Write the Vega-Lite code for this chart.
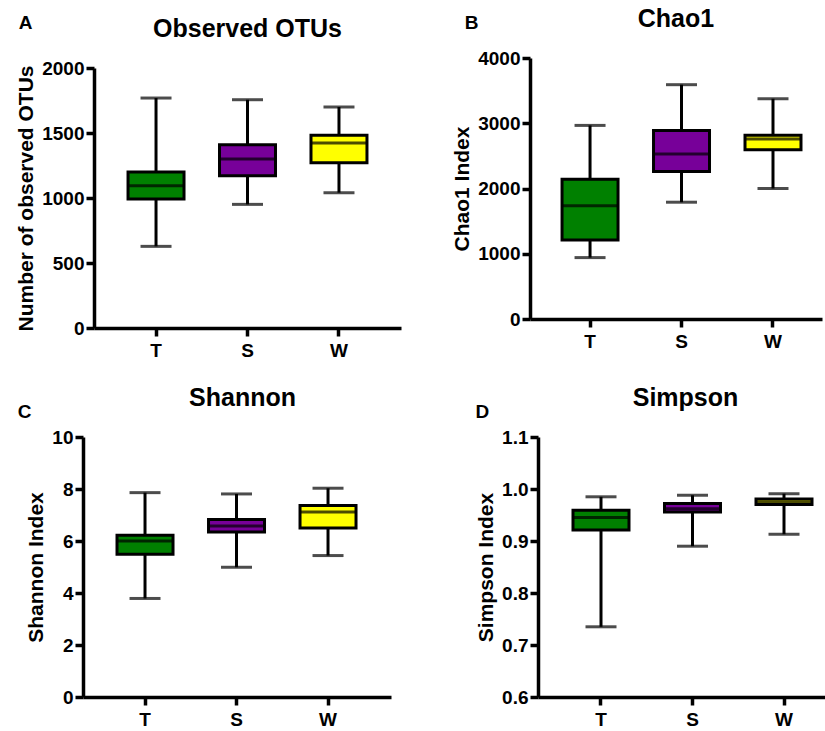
{
  "$schema": "https://vega.github.io/schema/vega-lite/v6.json",
  "padding": {"left": 15, "top": 6, "right": 0, "bottom": 0},
  "datasets": {
    "otus": [
      {"group": "T", "min": 628, "q1": 992, "median": 1095, "q3": 1200, "max": 1769},
      {"group": "S", "min": 951, "q1": 1172, "median": 1300, "q3": 1410, "max": 1756},
      {"group": "W", "min": 1041, "q1": 1272, "median": 1423, "q3": 1482, "max": 1700}
    ],
    "chao": [
      {"group": "T", "min": 941, "q1": 1212, "median": 1734, "q3": 2143, "max": 2967},
      {"group": "S", "min": 1790, "q1": 2261, "median": 2527, "q3": 2890, "max": 3591},
      {"group": "W", "min": 2000, "q1": 2593, "median": 2757, "q3": 2818, "max": 3376}
    ],
    "shannon": [
      {"group": "T", "min": 3.79, "q1": 5.49, "median": 6.0, "q3": 6.22, "max": 7.86},
      {"group": "S", "min": 4.99, "q1": 6.35, "median": 6.58, "q3": 6.83, "max": 7.81},
      {"group": "W", "min": 5.44, "q1": 6.5, "median": 7.12, "q3": 7.37, "max": 8.03}
    ],
    "simpson": [
      {"group": "T", "min": 0.735, "q1": 0.921, "median": 0.945, "q3": 0.959, "max": 0.985},
      {"group": "S", "min": 0.89, "q1": 0.956, "median": 0.962, "q3": 0.972, "max": 0.988},
      {"group": "W", "min": 0.913, "q1": 0.97, "median": 0.975, "q3": 0.981, "max": 0.991}
    ]
  },
  "spacing": 26,
  "vconcat": [
    {
      "spacing": 50,
      "hconcat": [
        {
          "title": {"text": ["", "A"], "anchor": "start", "frame": "bounds", "fontSize": 19, "offset": 0, "dx": 3, "dy": 16, "lineHeight": 8},
          "vconcat": [
            {
              "width": 307, "height": 260,
              "title": {"text": "Observed OTUs", "frame": "group", "anchor": "middle", "offset": 17},
              "data": {"name": "otus"},
              "encoding": {"x": {"field": "group", "type": "nominal", "sort": ["T", "S", "W"], "title": null, "scale": {"type": "band", "paddingInner": 0.388, "paddingOuter": 0.372, "align": 0.5}}},
              "layer": [
                {"mark": {"type": "rule", "color": "black", "strokeWidth": 3}, "encoding": {"y": {"field": "min", "type": "quantitative", "title": "Number of observed OTUs", "scale": {"domain": [0, 2000], "nice": false}, "axis": {"values": [0, 500, 1000, 1500, 2000], "format": "d"}}, "y2": {"field": "max"}}},
                {"mark": {"type": "tick", "color": "black", "size": 31, "thickness": 3}, "encoding": {"y": {"field": "min", "type": "quantitative", "title": "Number of observed OTUs", "scale": {"domain": [0, 2000], "nice": false}, "axis": {"values": [0, 500, 1000, 1500, 2000], "format": "d"}}}},
                {"mark": {"type": "tick", "color": "black", "size": 31, "thickness": 3}, "encoding": {"y": {"field": "max", "type": "quantitative", "title": "Number of observed OTUs", "scale": {"domain": [0, 2000], "nice": false}, "axis": {"values": [0, 500, 1000, 1500, 2000], "format": "d"}}}},
                {"mark": {"type": "bar", "stroke": "black", "strokeWidth": 3}, "encoding": {"y": {"field": "q1", "type": "quantitative", "title": "Number of observed OTUs", "scale": {"domain": [0, 2000], "nice": false}, "axis": {"values": [0, 500, 1000, 1500, 2000], "format": "d"}}, "y2": {"field": "q3"}, "fill": {"field": "group", "type": "nominal", "scale": {"domain": ["T", "S", "W"], "range": ["#008000", "#770099", "#ffff00"]}, "legend": null}}},
                {"mark": {"type": "tick", "color": "black", "size": 56, "thickness": 3}, "encoding": {"y": {"field": "median", "type": "quantitative", "title": "Number of observed OTUs", "scale": {"domain": [0, 2000], "nice": false}, "axis": {"values": [0, 500, 1000, 1500, 2000], "format": "d"}}}}
              ]
            }
          ]
        },
        {
          "title": {"text": "B", "anchor": "start", "frame": "bounds", "fontSize": 19, "offset": 0, "dx": 13, "dy": 26},
          "vconcat": [
            {
              "width": 292, "height": 251,
              "title": {"text": "Chao1", "frame": "group", "anchor": "middle", "offset": 17},
              "data": {"name": "chao"},
              "encoding": {"x": {"field": "group", "type": "nominal", "sort": ["T", "S", "W"], "title": null, "scale": {"type": "band", "paddingInner": 0.388, "paddingOuter": 0.29, "align": 0.604}}},
              "layer": [
                {"mark": {"type": "rule", "color": "black", "strokeWidth": 3}, "encoding": {"y": {"field": "min", "type": "quantitative", "title": "Chao1 Index", "scale": {"domain": [0, 4000], "nice": false, "range": [251, -10]}, "axis": {"values": [0, 1000, 2000, 3000, 4000], "format": "d"}}, "y2": {"field": "max"}}},
                {"mark": {"type": "tick", "color": "black", "size": 31, "thickness": 3}, "encoding": {"y": {"field": "min", "type": "quantitative", "title": "Chao1 Index", "scale": {"domain": [0, 4000], "nice": false, "range": [251, -10]}, "axis": {"values": [0, 1000, 2000, 3000, 4000], "format": "d"}}}},
                {"mark": {"type": "tick", "color": "black", "size": 31, "thickness": 3}, "encoding": {"y": {"field": "max", "type": "quantitative", "title": "Chao1 Index", "scale": {"domain": [0, 4000], "nice": false, "range": [251, -10]}, "axis": {"values": [0, 1000, 2000, 3000, 4000], "format": "d"}}}},
                {"mark": {"type": "bar", "stroke": "black", "strokeWidth": 3}, "encoding": {"y": {"field": "q1", "type": "quantitative", "title": "Chao1 Index", "scale": {"domain": [0, 4000], "nice": false, "range": [251, -10]}, "axis": {"values": [0, 1000, 2000, 3000, 4000], "format": "d"}}, "y2": {"field": "q3"}, "fill": {"field": "group", "type": "nominal", "scale": {"domain": ["T", "S", "W"], "range": ["#008000", "#770099", "#ffff00"]}, "legend": null}}},
                {"mark": {"type": "tick", "color": "black", "size": 56, "thickness": 3}, "encoding": {"y": {"field": "median", "type": "quantitative", "title": "Chao1 Index", "scale": {"domain": [0, 4000], "nice": false, "range": [251, -10]}, "axis": {"values": [0, 1000, 2000, 3000, 4000], "format": "d"}}}}
              ]
            }
          ]
        }
      ]
    },
    {
      "spacing": 73,
      "hconcat": [
        {
          "title": {"text": "C", "anchor": "start", "frame": "bounds", "fontSize": 19, "offset": 0, "dx": -8, "dy": 36},
          "vconcat": [
            {
              "width": 297, "height": 260,
              "title": {"text": "Shannon", "frame": "group", "anchor": "middle", "offset": 17},
              "data": {"name": "shannon"},
              "encoding": {"x": {"field": "group", "type": "nominal", "sort": ["T", "S", "W"], "title": null, "scale": {"type": "band", "paddingInner": 0.388, "paddingOuter": 0.377, "align": 0.493, "range": [-11, 297]}}},
              "layer": [
                {"mark": {"type": "rule", "color": "black", "strokeWidth": 3}, "encoding": {"y": {"field": "min", "type": "quantitative", "title": "Shannon Index", "scale": {"domain": [0, 10], "nice": false}, "axis": {"values": [0, 2, 4, 6, 8, 10], "offset": 11}}, "y2": {"field": "max"}}},
                {"mark": {"type": "tick", "color": "black", "size": 31, "thickness": 3}, "encoding": {"y": {"field": "min", "type": "quantitative", "title": "Shannon Index", "scale": {"domain": [0, 10], "nice": false}, "axis": {"values": [0, 2, 4, 6, 8, 10], "offset": 11}}}},
                {"mark": {"type": "tick", "color": "black", "size": 31, "thickness": 3}, "encoding": {"y": {"field": "max", "type": "quantitative", "title": "Shannon Index", "scale": {"domain": [0, 10], "nice": false}, "axis": {"values": [0, 2, 4, 6, 8, 10], "offset": 11}}}},
                {"mark": {"type": "bar", "stroke": "black", "strokeWidth": 3}, "encoding": {"y": {"field": "q1", "type": "quantitative", "title": "Shannon Index", "scale": {"domain": [0, 10], "nice": false}, "axis": {"values": [0, 2, 4, 6, 8, 10], "offset": 11}}, "y2": {"field": "q3"}, "fill": {"field": "group", "type": "nominal", "scale": {"domain": ["T", "S", "W"], "range": ["#008000", "#770099", "#ffff00"]}, "legend": null}}},
                {"mark": {"type": "tick", "color": "black", "size": 56, "thickness": 3}, "encoding": {"y": {"field": "median", "type": "quantitative", "title": "Shannon Index", "scale": {"domain": [0, 10], "nice": false}, "axis": {"values": [0, 2, 4, 6, 8, 10], "offset": 11}}}}
              ]
            }
          ]
        },
        {
          "title": {"text": "D", "anchor": "start", "frame": "bounds", "fontSize": 19, "offset": 0, "dx": 0, "dy": 36},
          "vconcat": [
            {
              "width": 295, "height": 260,
              "title": {"text": "Simpson", "frame": "group", "anchor": "middle", "offset": 17},
              "data": {"name": "simpson"},
              "encoding": {"x": {"field": "group", "type": "nominal", "sort": ["T", "S", "W"], "title": null, "scale": {"type": "band", "paddingInner": 0.388, "paddingOuter": 0.306, "align": 0.625}}},
              "layer": [
                {"mark": {"type": "rule", "color": "black", "strokeWidth": 3}, "encoding": {"y": {"field": "min", "type": "quantitative", "title": "Simpson Index", "scale": {"domain": [0.6, 1.1], "nice": false, "zero": false}, "axis": {"values": [0.6, 0.7, 0.8, 0.9, 1.0, 1.1], "format": ".1f"}}, "y2": {"field": "max"}}},
                {"mark": {"type": "tick", "color": "black", "size": 31, "thickness": 3}, "encoding": {"y": {"field": "min", "type": "quantitative", "title": "Simpson Index", "scale": {"domain": [0.6, 1.1], "nice": false, "zero": false}, "axis": {"values": [0.6, 0.7, 0.8, 0.9, 1.0, 1.1], "format": ".1f"}}}},
                {"mark": {"type": "tick", "color": "black", "size": 31, "thickness": 3}, "encoding": {"y": {"field": "max", "type": "quantitative", "title": "Simpson Index", "scale": {"domain": [0.6, 1.1], "nice": false, "zero": false}, "axis": {"values": [0.6, 0.7, 0.8, 0.9, 1.0, 1.1], "format": ".1f"}}}},
                {"mark": {"type": "bar", "stroke": "black", "strokeWidth": 3}, "encoding": {"y": {"field": "q1", "type": "quantitative", "title": "Simpson Index", "scale": {"domain": [0.6, 1.1], "nice": false, "zero": false}, "axis": {"values": [0.6, 0.7, 0.8, 0.9, 1.0, 1.1], "format": ".1f"}}, "y2": {"field": "q3"}, "fill": {"field": "group", "type": "nominal", "scale": {"domain": ["T", "S", "W"], "range": ["#008000", "#770099", "#ffff00"]}, "legend": null}}},
                {"mark": {"type": "tick", "color": "black", "size": 56, "thickness": 3}, "encoding": {"y": {"field": "median", "type": "quantitative", "title": "Simpson Index", "scale": {"domain": [0.6, 1.1], "nice": false, "zero": false}, "axis": {"values": [0.6, 0.7, 0.8, 0.9, 1.0, 1.1], "format": ".1f"}}}}
              ]
            }
          ]
        }
      ]
    }
  ],
  "resolve": {"scale": {"fill": "independent"}},
  "config": {
    "font": "Liberation Sans",
    "view": {"stroke": null},
    "title": {"font": "Liberation Sans", "fontSize": 25, "fontWeight": "bold", "color": "black"},
    "axis": {
      "grid": false,
      "domainColor": "black", "domainWidth": 3.5,
      "tickColor": "black", "tickWidth": 3.5, "tickSize": 8,
      "labelFont": "Liberation Sans", "labelFontSize": 19, "labelFontWeight": "bold", "labelColor": "black", "labelPadding": 2,
      "titleFont": "Liberation Sans", "titleFontSize": 21, "titleFontWeight": "bold", "titleColor": "black", "titlePadding": 5
    },
    "axisX": {"labelAngle": 0, "labelPadding": 5}
  }
}
